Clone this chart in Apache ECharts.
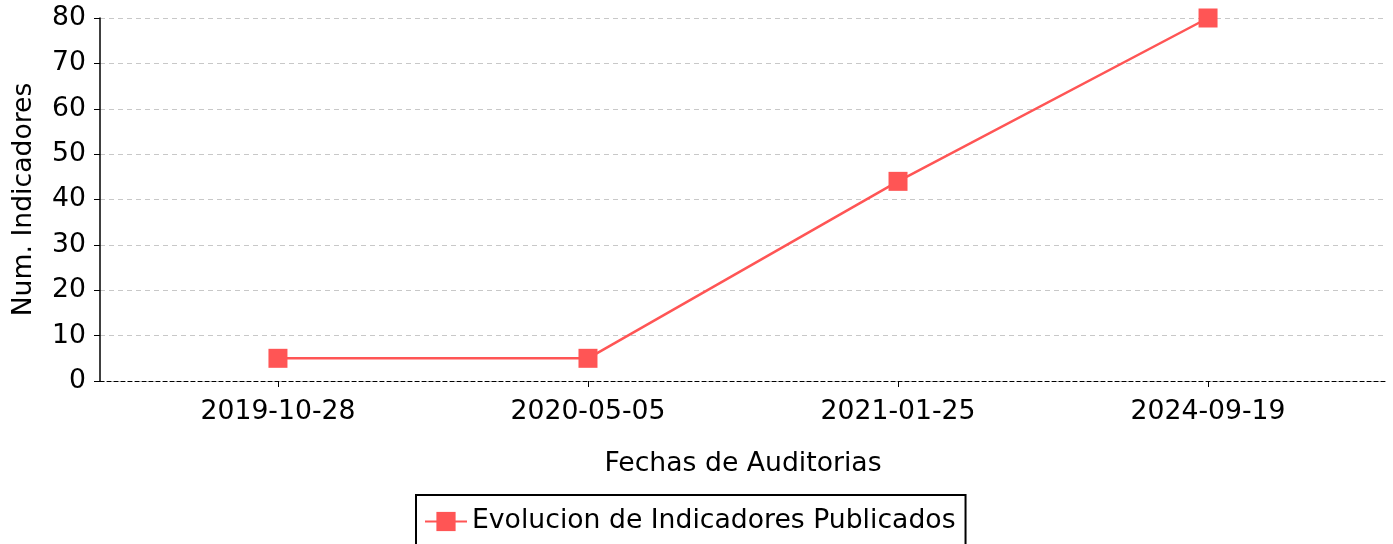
<!DOCTYPE html>
<html>
<head>
<meta charset="utf-8">
<script src="https://cdn.jsdelivr.net/npm/echarts@6/dist/echarts.min.js"></script>
<style>
  html, body { margin: 0; padding: 0; background: #fff; }
  #chart { width: 1393px; height: 544px; }
</style>
</head>
<body>
<div id="chart"></div>
<script>
// datos del grafico
const fechas = ['2019-10-28', '2020-05-05', '2021-01-25', '2024-09-19'];
const indicadores = [5, 5, 44, 80];
const serieNombre = 'Evolucion de Indicadores Publicados';

const chart = echarts.init(document.getElementById('chart'));
const font = 'DejaVu Sans';
const fs = 26.67;
const rojo = '#ff5555';

const option = {
  animation: false,
  textStyle: { fontFamily: font },
  grid: { left: 100, right: 7, top: 18, bottom: 163 },
  xAxis: {
    type: 'value',
    min: -0.574,
    max: 3.574,
    name: 'Fechas de Auditorias',
    nameLocation: 'middle',
    nameGap: 70,
    nameTextStyle: { fontSize: fs, color: '#000', fontFamily: font },
    axisLine: { show: true, onZero: false, lineStyle: { color: '#000', type: [4, 3], width: 1 } },
    axisTick: { show: true, customValues: [0, 1, 2, 3], length: 6, lineStyle: { color: '#000' } },
    axisLabel: {
      customValues: [0, 1, 2, 3],
      formatter: v => fechas[Math.round(v)],
      fontSize: fs, color: '#000', margin: 18, fontFamily: font
    },
    splitLine: { show: false }
  },
  yAxis: {
    type: 'value',
    min: 0,
    max: 80,
    interval: 10,
    name: 'Num. Indicadores',
    nameLocation: 'middle',
    nameGap: 62,
    nameTextStyle: { fontSize: fs, color: '#000', fontFamily: font },
    axisLine: { show: true, onZero: false, lineStyle: { color: '#000', width: 1.5 } },
    axisTick: { show: true, length: 6, lineStyle: { color: '#000' } },
    axisLabel: { fontSize: fs, color: '#000', margin: 14, fontFamily: font },
    splitLine: { show: true, lineStyle: { color: '#c8c8c8', type: [5, 4], width: 1 } }
  },
  legend: {
    left: 416,
    top: 495,
    orient: 'horizontal',
    borderColor: '#000',
    borderWidth: 2,
    borderRadius: 0,
    padding: [13, 10, 14, 8],
    itemWidth: 42,
    itemHeight: 24,
    itemGap: 10,
    textStyle: { fontSize: fs, color: '#000', fontFamily: font },
    data: [serieNombre]
  },
  series: [{
    name: serieNombre,
    type: 'line',
    data: indicadores.map((v, i) => [i, v]),
    symbol: 'rect',
    symbolSize: 19,
    lineStyle: { color: rojo, width: 2.5 },
    itemStyle: { color: rojo },
    clip: true
  }]
};

chart.setOption(option);
</script>
</body>
</html>
